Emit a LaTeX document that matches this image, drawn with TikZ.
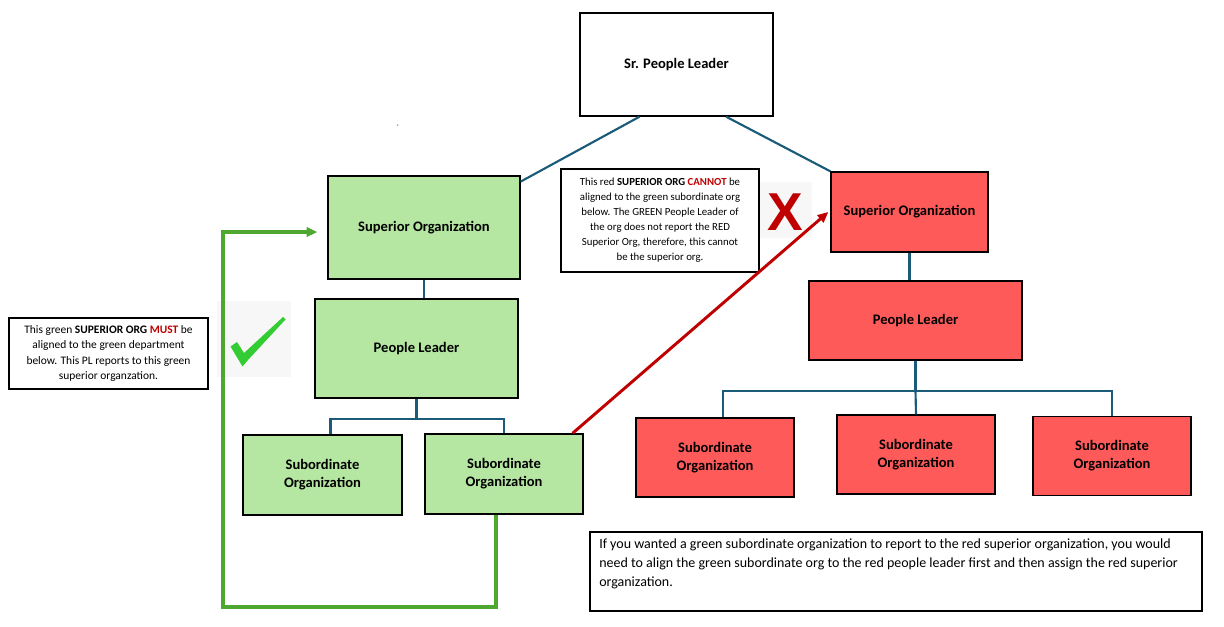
\documentclass[tikz,border=0pt]{standalone}
\usepackage{fontspec}
\setmainfont{Carlito}
\newfontfamily\xfont{Liberation Sans}
\usetikzlibrary{calc,arrows.meta}
\definecolor{gfill}{HTML}{B5E6A2}
\definecolor{rfill}{HTML}{FF5A5A}
\definecolor{conncol}{HTML}{1B5B7A}
\definecolor{garrow}{HTML}{4EA72E}
\definecolor{rarrow}{HTML}{C00000}
\definecolor{txtred}{HTML}{C00000}
\definecolor{checkcol}{HTML}{33CC33}
\definecolor{bgmark}{HTML}{F7F7F7}
\tikzset{
  box/.style={draw=black, line width=1pt, inner sep=0pt, align=center, font=\fontsize{10.9pt}{13.5pt}\selectfont\bfseries},
  gbox/.style={box, fill=gfill},
  rbox/.style={box, fill=rfill},
  wbox/.style={box, fill=white},
  notebox/.style={draw=black, line width=0.9pt, fill=white, inner sep=0pt, align=center, font=\fontsize{8.6pt}{11.6pt}\selectfont},
  conn/.style={draw=conncol, line width=1.6pt},
  garr/.style={draw=garrow, line width=2.4pt, -{Triangle[length=8pt,width=7pt]}},
  rarr/.style={draw=rarrow, line width=2.2pt, -{Triangle[length=8pt,width=7pt]}},
}
\begin{document}
\begin{tikzpicture}[x=0.75pt,y=-0.75pt]
\useasboundingbox (0,0) rectangle (1224,627);
% nodes
\node[wbox, minimum width=144.75pt, minimum height=77.25pt] (srpl) at (676.5,64.5) {Sr. People Leader};
\node[gbox, minimum width=144pt, minimum height=77.25pt] (gsup) at (424,227.5) {Superior Organization};
\node[gbox, minimum width=152.25pt, minimum height=74.25pt] (gpl) at (416.5,348.5) {People Leader};
\node[gbox, minimum width=119.25pt, minimum height=60pt] (gsub1) at (322.5,475) {Subordinate\\Organization};
\node[gbox, minimum width=118.5pt, minimum height=60pt] (gsub2) at (504,474) {Subordinate\\Organization};
\node[rbox, minimum width=117.75pt, minimum height=60pt] (rsup) at (909.5,212) {Superior Organization};
\node[rbox, minimum width=159.75pt, minimum height=59.25pt] (rpl) at (915.5,320.5) {People Leader};
\node[rbox, minimum width=118.5pt, minimum height=59.25pt] (rsub1) at (715,457.5) {Subordinate\\Organization};
\node[rbox, minimum width=118.5pt, minimum height=59.25pt] (rsub2) at (916,454.5) {Subordinate\\Organization};
\node[rbox, minimum width=118.5pt, minimum height=59.25pt] (rsub3) at (1112,456) {Subordinate\\Organization};
% notes
\node[notebox, minimum width=149.25pt, minimum height=53.25pt] (note1) at (108.5,353.5)
  {This green \textbf{SUPERIOR ORG} \textbf{\color{txtred}MUST} be\\aligned to the green department\\below. This PL reports to this green\\superior organzation.};
\node[notebox, minimum width=148.5pt, minimum height=77.25pt, font=\fontsize{8.1pt}{11.2pt}\selectfont] (note2) at (660,220.5)
  {This red \textbf{SUPERIOR ORG} \textbf{\color{txtred}CANNOT} be\\aligned to the green subordinate org\\below. The GREEN People Leader of\\the org does not report the RED\\Superior Org, therefore, this cannot\\be the superior org.};
\node[draw=black, line width=0.9pt, fill=white, minimum width=459pt, minimum height=59.25pt, inner sep=0pt] (note3) at (896,571.5) {};
\node[anchor=north west, inner sep=0pt, align=left, font=\fontsize{10.5pt}{13.9pt}\selectfont] (note3t) at (599,539)
  {If you wanted a green subordinate organization to report to the red superior organization, you would\\need to align the green subordinate org to the red people leader first and then assign the red superior\\organization.};
\node[inner sep=0pt, font=\tiny] (tick) at (398,127) {`};
% check mark
\node[fill=bgmark, minimum width=55.5pt, minimum height=57pt, inner sep=0pt] (chkbg) at (254,339) {};
\fill[checkcol] (230.5,346.5) -- (237,342) -- (244,353) -- (283,317) -- (285.5,319.5) -- (248,360) -- (242.5,366.5) -- cycle;
% X mark
\node[fill=bgmark, minimum width=39pt, minimum height=42pt, inner sep=0pt] (xbg) at (786,210) {};
\node[inner sep=0pt, text=txtred, font=\xfont\fontsize{40pt}{40pt}\selectfont\bfseries] (xm) at (785,212) {X};
% connectors
\draw[conn] ($(srpl.south west)!0.31!(srpl.south east)$) -- ($(gsup.north east)!0.06!(gsup.south east)$);
\draw[conn] ($(srpl.south west)!0.755!(srpl.south east)$) -- (rsup.north west);
\draw[conn] (gsup.south) -- (gsup.south |- gpl.north);
\draw[conn] (rsup.south) -- (rsup.south |- rpl.north);
\draw[conn] (gpl.south) -- ++(0,20) coordinate (gj);
\coordinate (g1t) at ($(gsub1.north west)!0.55!(gsub1.north east)$);
\draw[conn] (g1t) |- (gj) -| (gsub2.north);
\draw[conn] (rpl.south) -- ++(0,30) coordinate (rj);
\coordinate (r1t) at ($(rsub1.north west)!0.55!(rsub1.north east)$);
\draw[conn] (r1t) |- (rj) -| (rsub3.north);
\draw[conn] (rj) -- (rsub2.north);
% green arrow
\coordinate (gs) at ($(gsub2.south west)!0.45!(gsub2.south east)$);
\coordinate (gb) at (223,607);
\draw[garr] (gs) |- (gb) |- ([xshift=-7.5pt,yshift=-3.4pt]gsup.west);
% red arrow
\draw[rarr] ($(gsub2.north west)!0.93!(gsub2.north east)$) -- ([xshift=-1.5pt]rsup.west);
\end{tikzpicture}
\end{document}
